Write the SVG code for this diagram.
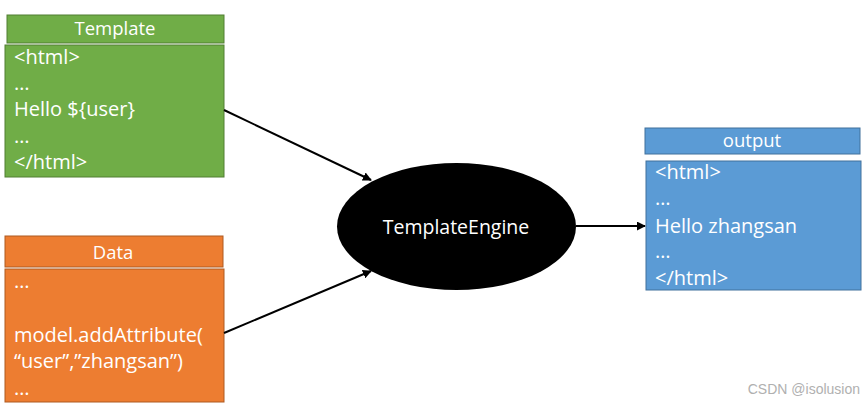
<svg xmlns="http://www.w3.org/2000/svg" width="865" height="407" viewBox="0 0 865 407">
<defs>
<style>
.t{font-family:"Open Sans","Noto Sans","Liberation Sans",sans-serif;font-size:20px;fill:#fff}
.h{font-size:18.5px}
.e{font-size:19.5px}
.c{text-anchor:middle}
.g{fill:#70AD47;stroke:#507E32;stroke-width:1}
.o{fill:#ED7D31;stroke:#AE5A21;stroke-width:1}
.b{fill:#5B9BD5;stroke:#41719C;stroke-width:1}
.ln{stroke:#000;stroke-width:2;fill:none;marker-end:url(#ah)}
</style>
<marker id="ah" viewBox="0 0 10 10" refX="9" refY="5" markerWidth="4.5" markerHeight="4.5" orient="auto" markerUnits="strokeWidth">
<path d="M0,0 L10,5 L0,10 z" fill="#000"/>
</marker>
</defs>
<rect width="865" height="407" fill="#fff"/>
<g id="template">
<rect class="g" x="7" y="15" width="217" height="28"/>
<text class="t h c" x="115" y="35">Template</text>
<rect class="g" x="5" y="45" width="219" height="132"/>
<text class="t" x="14" y="64">&lt;html&gt;</text>
<text class="t" x="14" y="90">…</text>
<text class="t" x="14" y="116">Hello ${user}</text>
<text class="t" x="14" y="143">…</text>
<text class="t" x="14" y="169">&lt;/html&gt;</text>
</g>
<g id="data">
<rect class="o" x="5" y="236" width="218" height="31"/>
<text class="t h c" x="113" y="259">Data</text>
<rect class="o" x="5" y="269" width="219" height="133"/>
<text class="t" x="14" y="288">…</text>
<text class="t" x="14" y="342">model.addAttribute(</text>
<text class="t" x="14" y="368">“user”,”zhangsan”)</text>
<text class="t" x="14" y="395">…</text>
</g>
<g id="engine">
<ellipse cx="456.5" cy="226.5" rx="119.5" ry="63.5" fill="#000"/>
<text class="t e c" x="456" y="234">TemplateEngine</text>
</g>
<g id="output">
<rect class="b" x="645" y="128" width="215" height="26"/>
<text class="t h c" x="752" y="147">output</text>
<rect class="b" x="646" y="161" width="215" height="129"/>
<text class="t" x="655" y="179">&lt;html&gt;</text>
<text class="t" x="655" y="205">…</text>
<text class="t" x="655" y="233">Hello zhangsan</text>
<text class="t" x="655" y="258">…</text>
<text class="t" x="655" y="285">&lt;/html&gt;</text>
</g>
<g id="connectors">
<line class="ln" x1="224" y1="110" x2="371" y2="180"/>
<line class="ln" x1="224" y1="333" x2="371" y2="271"/>
<line class="ln" x1="576" y1="226" x2="645" y2="226"/>
</g>
<text x="860" y="394" text-anchor="end" style="font-family:'Liberation Sans',Arial,sans-serif;font-size:14px;fill:#b0b0b0">CSDN @isolusion</text>
</svg>
